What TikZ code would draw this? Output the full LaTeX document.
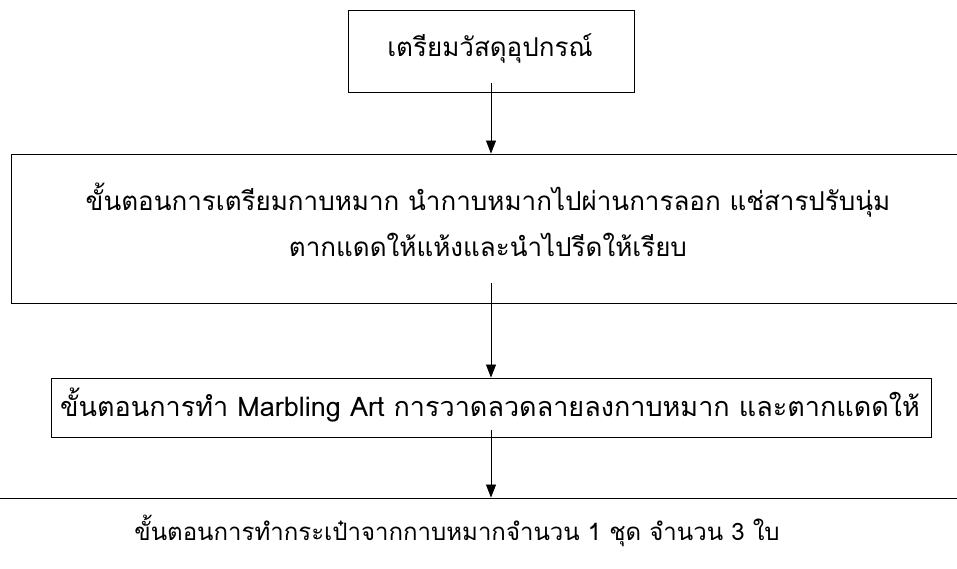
\documentclass[tikz,border=0pt]{standalone}
\usepackage{fontspec}
\setmainfont[Script=Thai]{Loma}
\usetikzlibrary{arrows.meta}

\tikzset{
  box/.style={draw, line width=0.9pt, inner sep=0pt},
  txt/.style={font=\fontsize{26}{46}\selectfont, inner sep=0pt, align=center},
  arr/.style={-{Triangle[length=13pt,width=10pt]}, line width=0.7pt},
}

\begin{document}
\begin{tikzpicture}[x=1pt,y=-1pt]
\useasboundingbox (0,0) rectangle (957,569);
\clip (0,0) rectangle (957,569);

% boxes
\node[box, minimum width=286pt, minimum height=82pt] (b1) at (491,51) {};
\node[box, minimum width=964pt, minimum height=149pt] (b2) at (493,228.5) {};
\node[box, minimum width=880pt, minimum height=59pt] (b3) at (491,407.5) {};
\node[box, minimum width=1000pt, minimum height=102pt] (b4) at (479,549) {};

% texts
\node[txt] (t1) at (490,48) {เตรียมวัสดุอุปกรณ์};
\node[txt] (t2) at (488,220) {ขั้นตอนการเตรียมกาบหมาก นำกาบหมากไปผ่านการลอก แช่สารปรับนุ่ม\\ตากแดดให้แห้งและนำไปรีดให้เรียบ};
\node[txt, font=\fontsize{27}{46}\selectfont] (t3) at (490,405) {ขั้นตอนการทำ Marbling Art การวาดลวดลายลงกาบหมาก และตากแดดให้};
\node[txt, font=\fontsize{24}{46}\selectfont] (t4) at (457,531) {ขั้นตอนการทำกระเป๋าจากกาบหมากจำนวน 1 ชุด จำนวน 3 ใบ};

% arrows
\coordinate (s1) at (491,83);
\coordinate (s2) at (491,283);
\coordinate (s3) at (491,430);
\draw[arr] (s1) -- (s1 |- b2.north);
\draw[arr] (s2) -- (s2 |- b3.north);
\draw[arr] (s3) -- (s3 |- b4.north);
\end{tikzpicture}
\end{document}
